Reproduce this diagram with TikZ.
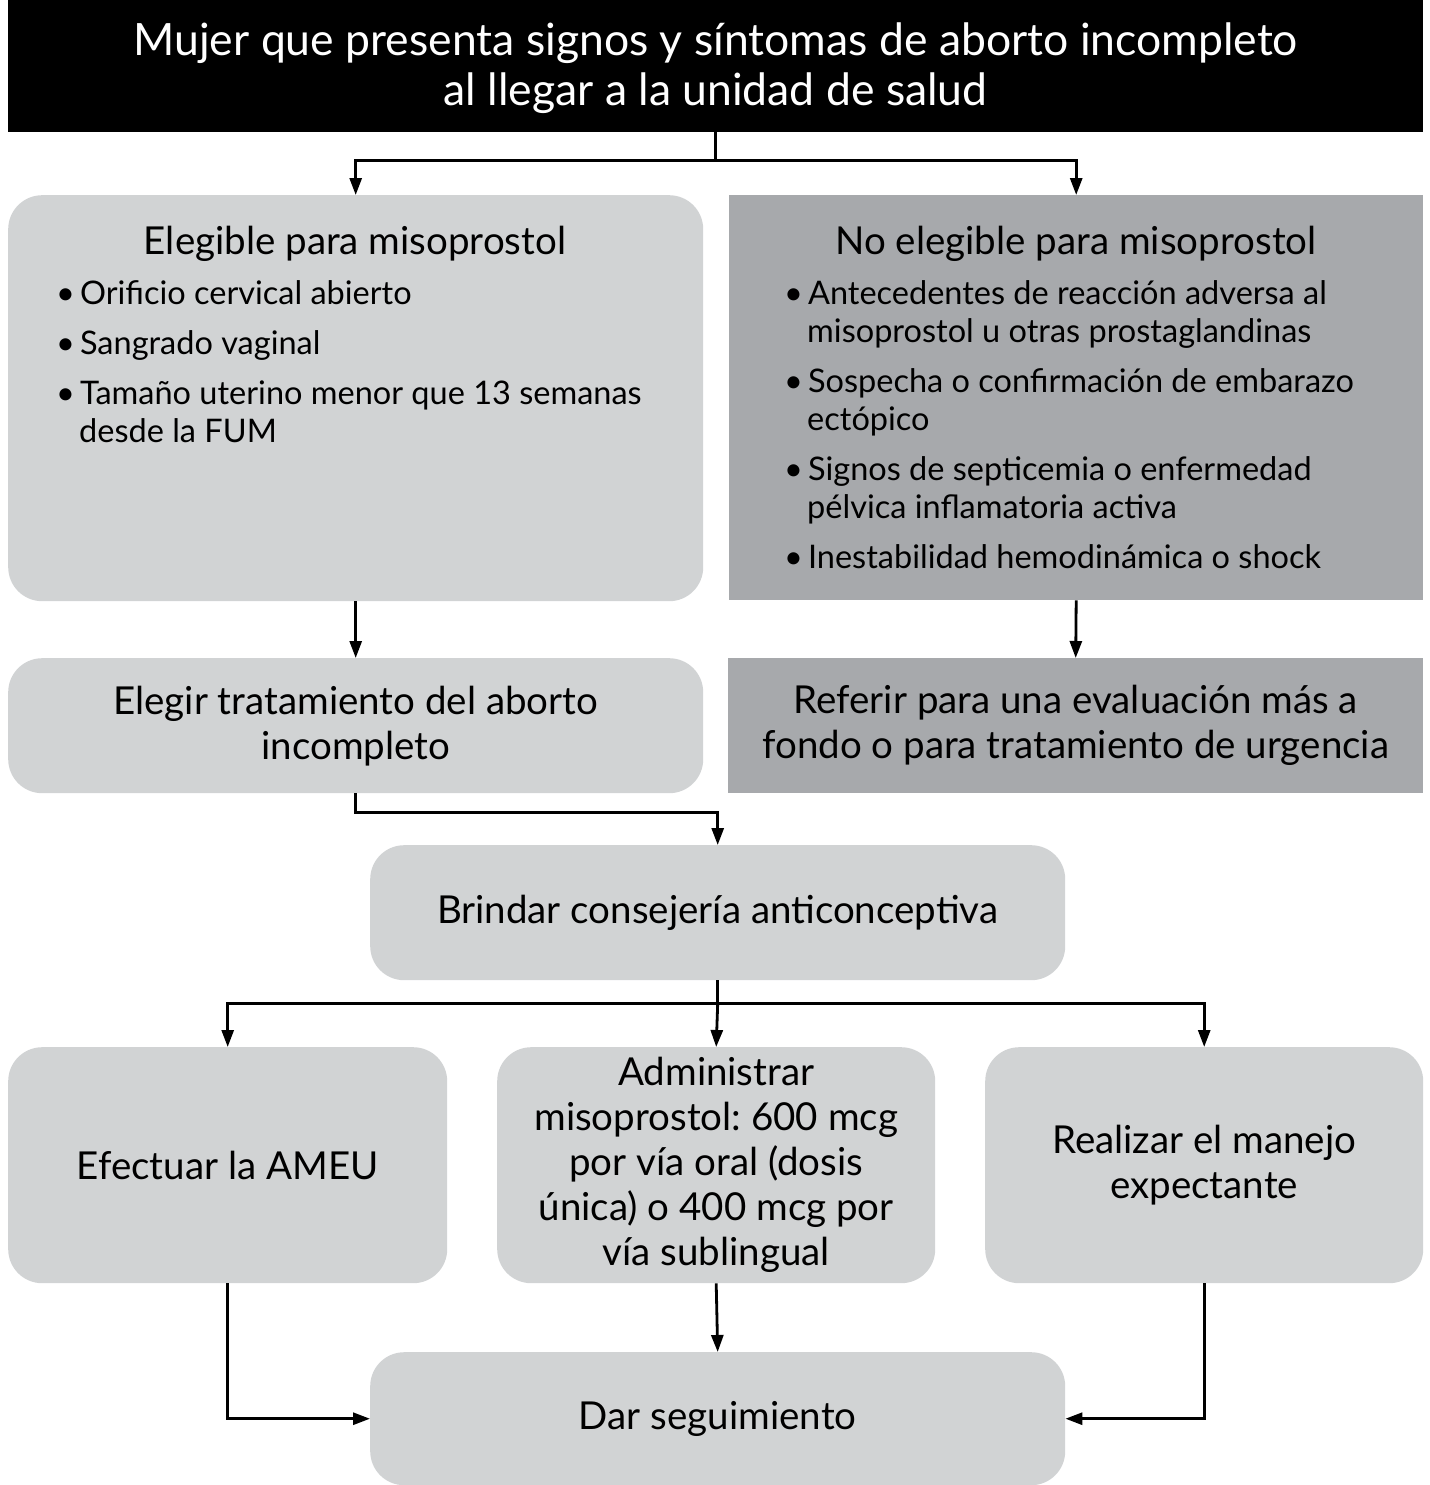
\documentclass[tikz,border=0pt]{standalone}
\usepackage{fontspec}
\setmainfont{Lato}
\usepackage{xcolor}
\definecolor{cSoft}{HTML}{D1D3D4}
\definecolor{cHard}{HTML}{A7A9AC}
\usepackage{tikz}
\usetikzlibrary{positioning,arrows.meta}
\frenchspacing
\tikzset{
  node-head/.style={fill=black,text=white,inner sep=0pt,align=center,
    font=\fontsize{44.5}{50}\selectfont},
  node-soft/.style={fill=cSoft,rounded corners=34pt,inner sep=0pt,
    align=center,font=\fontsize{38.5}{45}\selectfont},
  node-hard/.style={fill=cHard,inner sep=0pt,align=center,
    font=\fontsize{38.5}{45}\selectfont},
  node-title/.style={inner sep=0pt,anchor=base,font=\fontsize{38.5}{45}\selectfont},
  node-list/.style={inner sep=0pt,anchor=base west,font=\fontsize{32.5}{38}\selectfont},
  arrow/.style={-{Triangle[length=17pt,width=12pt]},line width=2.8pt},
  joint/.style={line width=2.8pt},
}
% una viñeta por renglón de la lista
\newcommand\bul{\textbullet\hspace{5pt}}
\newcommand\hang{\hspace*{23pt}}

\begin{document}
\begin{tikzpicture}[x=1pt,y=-1pt]
  \useasboundingbox (0,0) rectangle (1429,1485);

  % encabezado
  \node[node-head,minimum width=1415pt,minimum height=132pt,anchor=north west]
    (mujer) at (8,0) {\raisebox{-4pt}[\height][\depth]{%
    \begin{tabular}{@{}c@{}}
      Mujer que presenta signos y síntomas de aborto incompleto\\
      al llegar a la unidad de salud
    \end{tabular}}};

  % criterios
  \node[node-soft,minimum width=695pt,minimum height=406pt,anchor=north west]
    (elig) at (8,195) {};
  \node[node-hard,minimum width=694pt,minimum height=405pt,anchor=north west]
    (noelig) at (729,195) {};
  \node[node-title] (elig-t) at (355,254) {Elegible para misoprostol};
  \node[node-title] (noelig-t) at (1076,254) {No elegible para misoprostol};
  \node[node-list] (elig-l) at (56,304) {%
    \begin{tabular}[t]{@{}l@{}}
      \bul Orificio cervical abierto\\[12pt]
      \bul Sangrado vaginal\\[12pt]
      \bul Tamaño uterino menor que 13 semanas\\
      \hang desde la FUM
    \end{tabular}};
  \node[node-list] (noelig-l) at (784,304) {%
    \begin{tabular}[t]{@{}l@{}}
      \bul Antecedentes de reacción adversa al\\
      \hang misoprostol u otras prostaglandinas\\[12pt]
      \bul Sospecha o confirmación de embarazo\\
      \hang ectópico\\[12pt]
      \bul Signos de septicemia o enfermedad\\
      \hang pélvica inflamatoria activa\\[12pt]
      \bul Inestabilidad hemodinámica o shock
    \end{tabular}};

  % siguiente paso
  \node[node-soft,minimum width=695pt,minimum height=135pt,anchor=north west]
    (elegir) at (8,658) {Elegir tratamiento del aborto\\incompleto};
  \node[node-hard,minimum width=695pt,minimum height=135pt,anchor=north west]
    (referir) at (728,658) {Referir para una evaluación más a\\
    fondo o para tratamiento de urgencia};
  \node[node-soft,minimum width=695pt,minimum height=135pt,anchor=north west]
    (consejo) at (370,845) {Brindar consejería anticonceptiva};

  % opciones de tratamiento
  \node[node-soft,minimum width=439pt,minimum height=236pt,anchor=north west]
    (ameu) at (8,1047) {Efectuar la AMEU};
  \node[node-soft,minimum width=438pt,minimum height=236pt,anchor=north west]
    (miso) at (497,1047) {Administrar\\misoprostol: 600 mcg\\por vía oral (dosis\\
    única) o 400 mcg por\\vía sublingual};
  \node[node-soft,minimum width=438pt,minimum height=236pt,anchor=north west]
    (expect) at (985,1047) {Realizar el manejo\\expectante};
  \node[node-soft,minimum width=695pt,minimum height=133pt,anchor=north west]
    (seguir) at (370,1352) {Dar seguimiento};

  % conectores
  \draw[joint] (mujer.south) -- ++(0,28) coordinate (split);
  \draw[arrow] (split) -| (elig.north);
  \draw[arrow] (split) -| (noelig.north);
  \draw[arrow] (elig.south) -- (elegir.north);
  \draw[arrow] (noelig.south) -- (referir.north);
  \draw[arrow] (elegir.south) -- ++(0,19) -| (consejo.north);
  \draw[joint] (consejo.south) -- ++(0,23) coordinate (fork);
  \draw[arrow] (fork) -| (ameu.north);
  \draw[arrow] (fork) -- (miso.north);
  \draw[arrow] (fork) -| (expect.north);
  \draw[arrow] (ameu.south) |- (seguir.west);
  \draw[arrow] (miso.south) -- (seguir.north);
  \draw[arrow] (expect.south) |- (seguir.east);
\end{tikzpicture}
\end{document}
